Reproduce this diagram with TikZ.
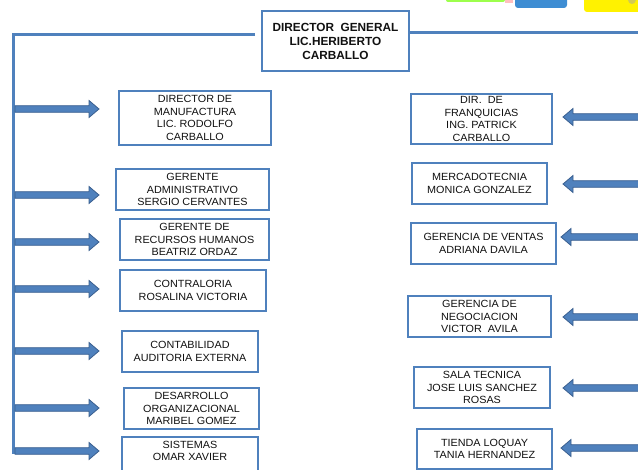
\documentclass[tikz,border=0pt]{standalone}
\usepackage{fontspec}
\setmainfont{Liberation Sans}
\newfontfamily\boxfont[FakeStretch=1.04]{Liberation Sans}
\definecolor{bblue}{HTML}{4F81BD}
\definecolor{bdark}{HTML}{3A5F8F}
\definecolor{txt}{HTML}{111111}
\tikzset{
  box/.style={draw=bblue, line width=2.5pt, fill=white, align=center, inner sep=0pt,
    text=txt, font=\boxfont\fontsize{10.4}{12.4}\selectfont},
  topbox/.style={box, font=\bfseries\fontsize{11.8}{14}\selectfont},
  trunk/.style={draw=bblue, line width=3pt},
  arrfill/.style={fill=bblue, draw=bdark, line width=0.8pt}
}
\newcommand{\blockarrow}[4]{% x0, x1 (tip), y, sign
  \filldraw[arrfill] ({#1},{#3-3.3}) -- ({#2-10*#4},{#3-3.3}) -- ({#2-10*#4},{#3-8.5}) -- ({#2},{#3})
    -- ({#2-10*#4},{#3+8.5}) -- ({#2-10*#4},{#3+3.3}) -- ({#1},{#3+3.3}) -- cycle;}
\begin{document}
\begin{tikzpicture}[x=1pt,y=-1pt]
\useasboundingbox (0,0) rectangle (638,470);
\clip (0,0) rectangle (638,470);
% partial shapes at top edge
\fill[green!55!yellow!70!white, rounded corners=2pt] (446,-6) rectangle (505,2);
\fill[red!25] (505,-6) rectangle (513,3);
\fill[cyan!60!blue!80, rounded corners=3pt] (515,-6) rectangle (567,8);
\fill[yellow, rounded corners=3pt] (584,-6) rectangle (645,12);
\fill[yellow!60!gray] (632,0) circle (4);
% top box
\node[topbox, minimum width=147pt, minimum height=60pt] (top) at (335.5,41) {DIRECTOR\ \ GENERAL\\LIC.HERIBERTO\\CARBALLO};
% trunk lines
\coordinate (tl) at (13,35);
\coordinate (tb) at (13,453);
\coordinate (tr) at (638,33);
\draw[trunk] (255,35) -- (tl) -- (tb) -- (16,453);
\draw[trunk] (top.east |- tr) -- (tr);
% left boxes
\node[box, minimum width=152pt, minimum height=54pt] (L1) at (195,118) {DIRECTOR DE\\MANUFACTURA\\LIC. RODOLFO\\CARBALLO};
\node[box, minimum width=153pt, minimum height=41pt] (L2) at (192.5,189.5) {GERENTE\\ADMINISTRATIVO\\SERGIO CERVANTES};
\node[box, minimum width=149pt, minimum height=41pt] (L3) at (194.5,239.5) {GERENTE DE\\RECURSOS HUMANOS\\BEATRIZ ORDAZ};
\node[box, minimum width=146pt, minimum height=41pt] (L4) at (193,290.5) {CONTRALORIA\\ROSALINA VICTORIA};
\node[box, minimum width=136pt, minimum height=41pt] (L5) at (190,351.5) {CONTABILIDAD\\AUDITORIA EXTERNA};
\node[box, minimum width=135pt, minimum height=41pt] (L6) at (191.5,408.5) {DESARROLLO\\ORGANIZACIONAL\\MARIBEL GOMEZ};
\node[box, minimum width=136pt, minimum height=40pt] (L7) at (190,457) {SISTEMAS\\OMAR XAVIER\\\ };
% right boxes
\node[box, minimum width=141pt, minimum height=50pt] (R1) at (481.5,119) {DIR.\ \ DE\\FRANQUICIAS\\ING. PATRICK\\CARBALLO};
\node[box, minimum width=135pt, minimum height=41pt] (R2) at (479.5,183.5) {MERCADOTECNIA\\MONICA GONZALEZ};
\node[box, minimum width=145pt, minimum height=41pt] (R3) at (483.5,243.5) {GERENCIA DE VENTAS\\ADRIANA DAVILA};
\node[box, minimum width=143pt, minimum height=41pt] (R4) at (479.5,316.5) {GERENCIA DE\\NEGOCIACION\\VICTOR\ \ AVILA};
\node[box, minimum width=136pt, minimum height=41pt] (R5) at (482,387.5) {SALA TECNICA\\JOSE LUIS SANCHEZ\\ROSAS};
\node[box, minimum width=135pt, minimum height=40pt] (R6) at (484.5,449) {TIENDA LOQUAY\\TANIA HERNANDEZ};
% left arrows
\blockarrow{15}{99}{109}{1}
\blockarrow{15}{99}{195}{1}
\blockarrow{15}{99}{242}{1}
\blockarrow{15}{99}{289}{1}
\blockarrow{15}{99}{351}{1}
\blockarrow{15}{99}{408}{1}
\blockarrow{15}{99}{451}{1}
% right arrows
\blockarrow{640}{563}{117}{-1}
\blockarrow{640}{563}{184}{-1}
\blockarrow{640}{561}{237}{-1}
\blockarrow{640}{563}{317}{-1}
\blockarrow{640}{563}{388}{-1}
\blockarrow{640}{561}{448}{-1}
\end{tikzpicture}
\end{document}
